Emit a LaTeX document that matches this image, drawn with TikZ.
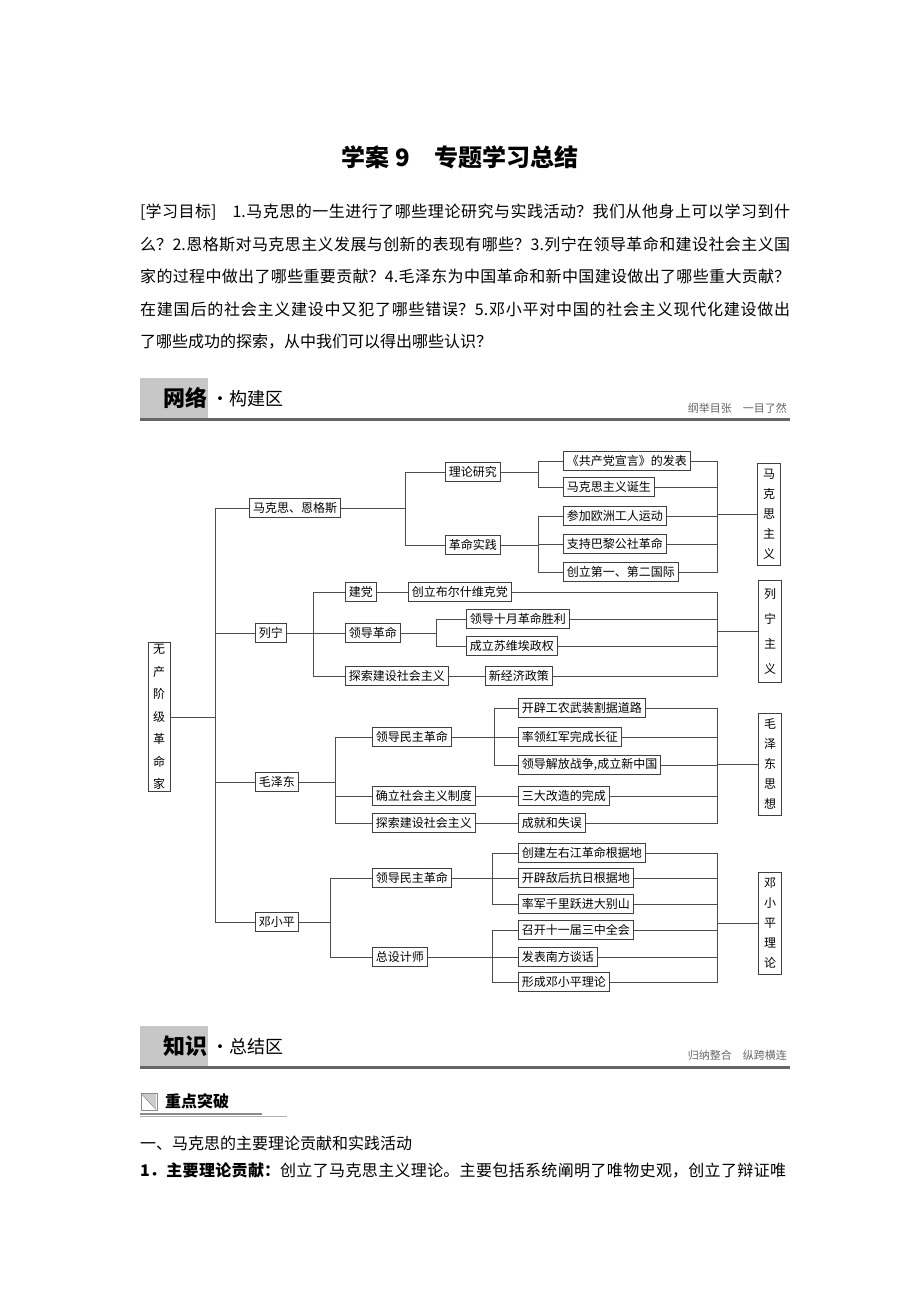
\documentclass[tikz,border=0pt]{standalone}
\usepackage{fontspec}
\setmainfont{Noto Sans CJK SC}
\XeTeXlinebreaklocale "zh"
\XeTeXlinebreakskip=0pt plus 2pt
\usetikzlibrary{positioning}

\tikzset{
  % box of the tree
  tbox/.style={
    rectangle, draw=black!75, line width=0.9pt, fill=white,
    font=\fontsize{12}{14}\selectfont,
    inner xsep=3.5pt, inner ysep=2pt, minimum height=19pt,
  },
  % upright column box
  vbox/.style={
    tbox, align=center, minimum width=23pt, minimum height=102pt,
    inner xsep=4pt, font=\fontsize{12}{20}\selectfont,
  },
  % connector
  conn/.style={draw=black!70, line width=0.7pt},
  % grey tab of a section bar
  tabbox/.style={rectangle, fill=black!22, draw=none, anchor=north west,
    minimum width=68pt, minimum height=40pt, inner sep=0pt},
  tabword/.style={font=\fontsize{22}{22}\selectfont\bfseries, anchor=east, inner sep=1pt},
  tabrest/.style={font=\fontsize{18}{18}\selectfont, anchor=west, inner sep=0pt},
  tabnote/.style={font=\fontsize{11}{11}\selectfont, text=black!60, anchor=east, inner sep=0pt},
}

\begin{document}
\begin{tikzpicture}[x=1pt, y=-1pt]
\useasboundingbox[fill=white] (0,0) rectangle (920,1302);

% ── Title and aims ────────────────────────────────────────────────
\node[font=\fontsize{24}{24}\selectfont\bfseries] (title) at (460,157)
  {学案 9\quad 专题学习总结};

\node[anchor=north west, text width=650pt, align=justify, inner sep=0pt,
  font=\fontsize{16}{32.5}\selectfont] (aims) at (140,204) {%
[学习目标]\quad 1.马克思的一生进行了哪些理论研究与实践活动？我们从他身上可以学习到什\linebreak
么？2.恩格斯对马克思主义发展与创新的表现有哪些？3.列宁在领导革命和建设社会主义国\linebreak
家的过程中做出了哪些重要贡献？4.毛泽东为中国革命和新中国建设做出了哪些重大贡献？\linebreak
在建国后的社会主义建设中又犯了哪些错误？5.邓小平对中国的社会主义现代化建设做出\linebreak
了哪些成功的探索，从中我们可以得出哪些认识？};

% ── Section bar: network ──────────────────────────────────────────
\node[tabbox] (tab1) at (140,378) {};
\node[tabword] (tab1word) at (tab1.east) {网络};
\node[tabrest] (tab1rest) at ([xshift=3pt]tab1.east) {·构建区};
\node[tabnote] (tab1note) at (787,408) {纲举目张\quad 一目了然};
\draw[black!60, line width=3pt] (140,419.5) -- (790,419.5);

% ── Junction columns ──────────────────────────────────────────────
\coordinate (jtrunk) at (215,0);
\coordinate (jmarx) at (405,0);
\coordinate (jmarxleaf) at (538,0);
\coordinate (jlenin) at (313,0);
\coordinate (jleninleaf) at (436,0);
\coordinate (jmao) at (335,0);
\coordinate (jmaoleaf) at (494,0);
\coordinate (jdeng) at (330,0);
\coordinate (jdengleaf) at (492,0);
\coordinate (jcol) at (717,0);

% root
\node[vbox, minimum width=22pt, font=\fontsize{12}{22.5}\selectfont] (root) at (159,717)
  {无\\产\\阶\\级\\革\\命\\家};

% ── Marx and Engels ───────────────────────────────────────────────
\node[tbox] (marx) at (295,508) {马克思、恩格斯};
\node[tbox, anchor=west] (theory) at (445,472) {理论研究};
\node[tbox, anchor=west] (practice) at (445,545) {革命实践};
\node[tbox, anchor=west] (manifesto) at (563,461) {《共产党宣言》的发表};
\node[tbox, anchor=west] (birth) at (563,487) {马克思主义诞生};
\node[tbox, anchor=west] (workers) at (563,516) {参加欧洲工人运动};
\node[tbox, anchor=west] (commune) at (563,544) {支持巴黎公社革命};
\node[tbox, anchor=west] (intl) at (563,572) {创立第一、第二国际};
\node[vbox] (marxism) at (769,514) {马\\克\\思\\主\\义};

\draw[conn] (root.east) -- (root.east -| jtrunk) |- (marx.west);
\foreach \kid in {theory, practice}
  \draw[conn] (marx.east) -- (marx.east -| jmarx) |- (\kid.west);
\foreach \kid in {manifesto, birth}
  \draw[conn] (theory.east) -- (theory.east -| jmarxleaf) |- (\kid.west);
\foreach \kid in {workers, commune, intl}
  \draw[conn] (practice.east) -- (practice.east -| jmarxleaf) |- (\kid.west);
\foreach \kid in {manifesto, birth, workers, commune, intl}
  \draw[conn] (\kid.east) -- (\kid.east -| jcol) |- (marxism.west);

% ── Lenin ─────────────────────────────────────────────────────────
\node[tbox, anchor=west] (lenin) at (255,633) {列宁};
\node[tbox, anchor=west] (party) at (345,592) {建党};
\node[tbox, anchor=west] (bolshevik) at (408,592) {创立布尔什维克党};
\node[tbox, anchor=west] (leadrev) at (345,633) {领导革命};
\node[tbox, anchor=west] (october) at (466,619) {领导十月革命胜利};
\node[tbox, anchor=west] (soviet) at (466,646) {成立苏维埃政权};
\node[tbox, anchor=west] (leninbuild) at (345,676) {探索建设社会主义};
\node[tbox, anchor=west] (nep) at (485,676) {新经济政策};
\node[vbox, font=\fontsize{12}{25}\selectfont] (leninism) at (770,631) {列\\宁\\主\\义};

\draw[conn] (root.east) -- (root.east -| jtrunk) |- (lenin.west);
\foreach \kid in {party, leadrev, leninbuild}
  \draw[conn] (lenin.east) -- (lenin.east -| jlenin) |- (\kid.west);
\draw[conn] (party) -- (bolshevik);
\draw[conn] (leninbuild) -- (nep);
\foreach \kid in {october, soviet}
  \draw[conn] (leadrev.east) -- (leadrev.east -| jleninleaf) |- (\kid.west);
\foreach \kid in {bolshevik, october, soviet, nep}
  \draw[conn] (\kid.east) -- (\kid.east -| jcol) |- (leninism.west);

% ── Mao Zedong ────────────────────────────────────────────────────
\node[tbox, anchor=west] (mao) at (255,782) {毛泽东};
\node[tbox, anchor=west] (maorev) at (372,737) {领导民主革命};
\node[tbox, anchor=west] (guerrilla) at (518,708) {开辟工农武装割据道路};
\node[tbox, anchor=west] (march) at (518,737) {率领红军完成长征};
\node[tbox, anchor=west] (liberation) at (518,765) {领导解放战争,成立新中国};
\node[tbox, anchor=west] (system) at (372,796) {确立社会主义制度};
\node[tbox, anchor=west] (reform) at (518,796) {三大改造的完成};
\node[tbox, anchor=west] (maobuild) at (372,823) {探索建设社会主义};
\node[tbox, anchor=west] (mistakes) at (518,823) {成就和失误};
\node[vbox] (maoism) at (770,764) {毛\\泽\\东\\思\\想};

\draw[conn] (root.east) -- (root.east -| jtrunk) |- (mao.west);
\foreach \kid in {maorev, system, maobuild}
  \draw[conn] (mao.east) -- (mao.east -| jmao) |- (\kid.west);
\foreach \kid in {guerrilla, march, liberation}
  \draw[conn] (maorev.east) -- (maorev.east -| jmaoleaf) |- (\kid.west);
\draw[conn] (system) -- (reform);
\draw[conn] (maobuild) -- (mistakes);
\foreach \kid in {guerrilla, march, liberation, reform, mistakes}
  \draw[conn] (\kid.east) -- (\kid.east -| jcol) |- (maoism.west);

% ── Deng Xiaoping ─────────────────────────────────────────────────
\node[tbox, anchor=west] (deng) at (255,922) {邓小平};
\node[tbox, anchor=west] (dengrev) at (372,878) {领导民主革命};
\node[tbox, anchor=west] (zuoyou) at (518,853) {创建左右江革命根据地};
\node[tbox, anchor=west] (behind) at (518,878) {开辟敌后抗日根据地};
\node[tbox, anchor=west] (dabie) at (518,904) {率军千里跃进大别山};
\node[tbox, anchor=west] (architect) at (372,957) {总设计师};
\node[tbox, anchor=west] (plenum) at (518,930) {召开十一届三中全会};
\node[tbox, anchor=west] (south) at (518,957) {发表南方谈话};
\node[tbox, anchor=west] (dengform) at (518,982) {形成邓小平理论};
\node[vbox] (dengism) at (770,923) {邓\\小\\平\\理\\论};

\draw[conn] (root.east) -- (root.east -| jtrunk) |- (deng.west);
\foreach \kid in {dengrev, architect}
  \draw[conn] (deng.east) -- (deng.east -| jdeng) |- (\kid.west);
\foreach \kid in {zuoyou, behind, dabie}
  \draw[conn] (dengrev.east) -- (dengrev.east -| jdengleaf) |- (\kid.west);
\foreach \kid in {plenum, south, dengform}
  \draw[conn] (architect.east) -- (architect.east -| jdengleaf) |- (\kid.west);
\foreach \kid in {zuoyou, behind, dabie, plenum, south, dengform}
  \draw[conn] (\kid.east) -- (\kid.east -| jcol) |- (dengism.west);

% ── Section bar: summary ──────────────────────────────────────────
\node[tabbox] (tab2) at (140,1026) {};
\node[tabword] (tab2word) at (tab2.east) {知识};
\node[tabrest] (tab2rest) at ([xshift=3pt]tab2.east) {·总结区};
\node[tabnote] (tab2note) at (787,1055) {归纳整合\quad 纵跨横连};
\draw[black!60, line width=3pt] (140,1067.5) -- (790,1067.5);

% key points
\draw[black!45, line width=0.8pt] (141,1093) rectangle (157,1110);
\draw[black!55, line width=1pt] (142,1094) -- (156,1109);
\fill[black!20] (142,1094) -- (156,1109) -- (156,1094) -- cycle;
\node[font=\fontsize{16}{16}\selectfont\bfseries, anchor=west, inner sep=0pt]
  (keypoint) at (165,1101) {重点突破};
\draw[black!45, line width=2pt] (140,1114) -- (262,1114);
\draw[black!30, line width=1pt] (140,1116) -- (287,1116);

\node[font=\fontsize{16}{16}\selectfont, anchor=west, inner sep=0pt]
  (heading) at (140,1143) {一、马克思的主要理论贡献和实践活动};

\node[anchor=north west, text width=646pt, align=justify, inner sep=0pt,
  font=\fontsize{16}{32.5}\selectfont] (body) at (140,1163) {%
{\bfseries 1．主要理论贡献：}创立了马克思主义理论。主要包括系统阐明了唯物史观，创立了辩证唯\linebreak\mbox{}};

\end{tikzpicture}
\end{document}
